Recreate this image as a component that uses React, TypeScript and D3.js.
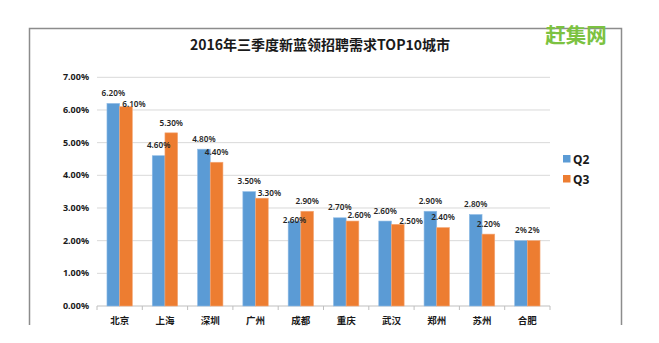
import React from "react";
import * as d3 from "d3";

const cities = ["北京", "上海", "深圳", "广州", "成都", "重庆", "武汉", "郑州", "苏州", "合肥"];
const q2Values = [6.2, 4.6, 4.8, 3.5, 2.6, 2.7, 2.6, 2.9, 2.8, 2.0];
const q3Values = [6.1, 5.3, 4.4, 3.3, 2.9, 2.6, 2.5, 2.4, 2.2, 2.0];
const q2Labels = ["6.20%", "4.60%", "4.80%", "3.50%", "2.60%", "2.70%", "2.60%", "2.90%", "2.80%", "2%"];
const q3Labels = ["6.10%", "5.30%", "4.40%", "3.30%", "2.90%", "2.60%", "2.50%", "2.40%", "2.20%", "2%"];
const yTicks = [0, 1, 2, 3, 4, 5, 6, 7];
const seriesNames = ["Q2", "Q3"];
const title = "2016年三季度新蓝领招聘需求TOP10城市";
const logo = "赶集网";

// manual label nudges (Excel-style placement), [dx, dy from bar top]
const q2Nudge: [number, number][] = [[0, -7], [0, -7.5], [0, -7], [0, -7.5], [0, 2], [0, -7.5], [0, -7.5], [0, -7.5], [0, -7.5], [0, -7.3]];
const q3Nudge: [number, number][] = [[8, 0], [0, -7], [0, -7.5], [7.5, -2.3], [0, -7.5], [6.7, -2.7], [13.3, -0.6], [0, -7.5], [0, -7], [0, -7.3]];

const W = 659;
const H = 343;
const colors = ["#5b9bd5", "#ed7d31"];
const font = "'Noto Sans', 'Noto Sans CJK SC', sans-serif";
const cjk = "'Noto Sans CJK SC', 'Noto Sans', sans-serif";

export default function App() {
  const x0 = d3.scaleBand<string>().domain(cities).range([97, 550]).paddingInner(0.44).paddingOuter(0.22);
  const x1 = d3.scaleBand<string>().domain(seriesNames).range([0, x0.bandwidth()]);
  const y = d3.scaleLinear().domain([0, 7]).range([306, 77.3]);
  const step = x0.step();
  const series = [q2Values, q3Values];
  const labels = [q2Labels, q3Labels];
  const nudges = [q2Nudge, q3Nudge];

  return (
    <svg width={W} height={H} style={{ position: "fixed", left: 0, top: 0, background: "#fff" }}>
      <rect x={0} y={0} width={W} height={H} fill="#fff" />
      {/* frame */}
      <path d="M29.5,325 V28.5 H621.5 V325" fill="none" stroke="#8c8c8c" strokeWidth={1.5} />
      <text x={320} y={50} textAnchor="middle" fontFamily={cjk} fontWeight="bold" fontSize={14} fill="#1a1a1a">
        {title}
      </text>
      <text x={576} y={43} textAnchor="middle" fontFamily={cjk} fontWeight="bold" fontSize={20.5} fill="#7cc241">
        {logo}
      </text>
      {/* grid */}
      {yTicks.map((t) => (
        <g key={t}>
          <line x1={97} x2={550} y1={y(t)} y2={y(t)} stroke={t === 0 ? "#bfbfbf" : "#d9d9d9"} strokeWidth={1} />
          <text x={89} y={y(t)} dy="0.35em" textAnchor="end" fontFamily={font} fontWeight="bold" fontSize={9} fill="#1a1a1a">
            {t.toFixed(2)}%
          </text>
        </g>
      ))}
      {d3.range(cities.length + 1).map((i) => (
        <line key={i} x1={97 + i * step} x2={97 + i * step} y1={306} y2={310} stroke="#bfbfbf" />
      ))}
      {/* bars */}
      {cities.map((c, i) => (
        <g key={c} transform={`translate(${x0(c)},0)`}>
          {series.map((vals, s) => (
            <rect
              key={s}
              x={x1(seriesNames[s])!}
              y={y(vals[i])}
              width={x1.bandwidth()}
              height={y(0) - y(vals[i])}
              fill={colors[s]}
              stroke={s === 0 ? "#8fbbe6" : "#f4a777"}
              strokeWidth={0.6}
            />
          ))}
          {series.map((vals, s) => (
            <text
              key={"l" + s}
              x={x1(seriesNames[s])! + x1.bandwidth() / 2 + nudges[s][i][0]}
              y={y(vals[i]) + nudges[s][i][1]}
              textAnchor="middle"
              fontFamily={font}
              fontWeight={600}
              fontSize={8.2}
              fill="#262626"
            >
              {labels[s][i]}
            </text>
          ))}
          <text x={x0.bandwidth() / 2} y={321} dy="0.35em" textAnchor="middle" fontFamily={cjk} fontWeight="bold" fontSize={9.5} fill="#1a1a1a">
            {c}
          </text>
        </g>
      ))}
      {/* legend */}
      {seriesNames.map((n, s) => (
        <g key={n} transform={`translate(563,${159 + s * 20})`}>
          <rect x={0} y={-4} width={7.5} height={7.5} fill={colors[s]} />
          <text x={10} y={0} dy="0.38em" fontFamily={font} fontWeight="bold" fontSize={12} fill="#1a1a1a">
            {n}
          </text>
        </g>
      ))}
    </svg>
  );
}
